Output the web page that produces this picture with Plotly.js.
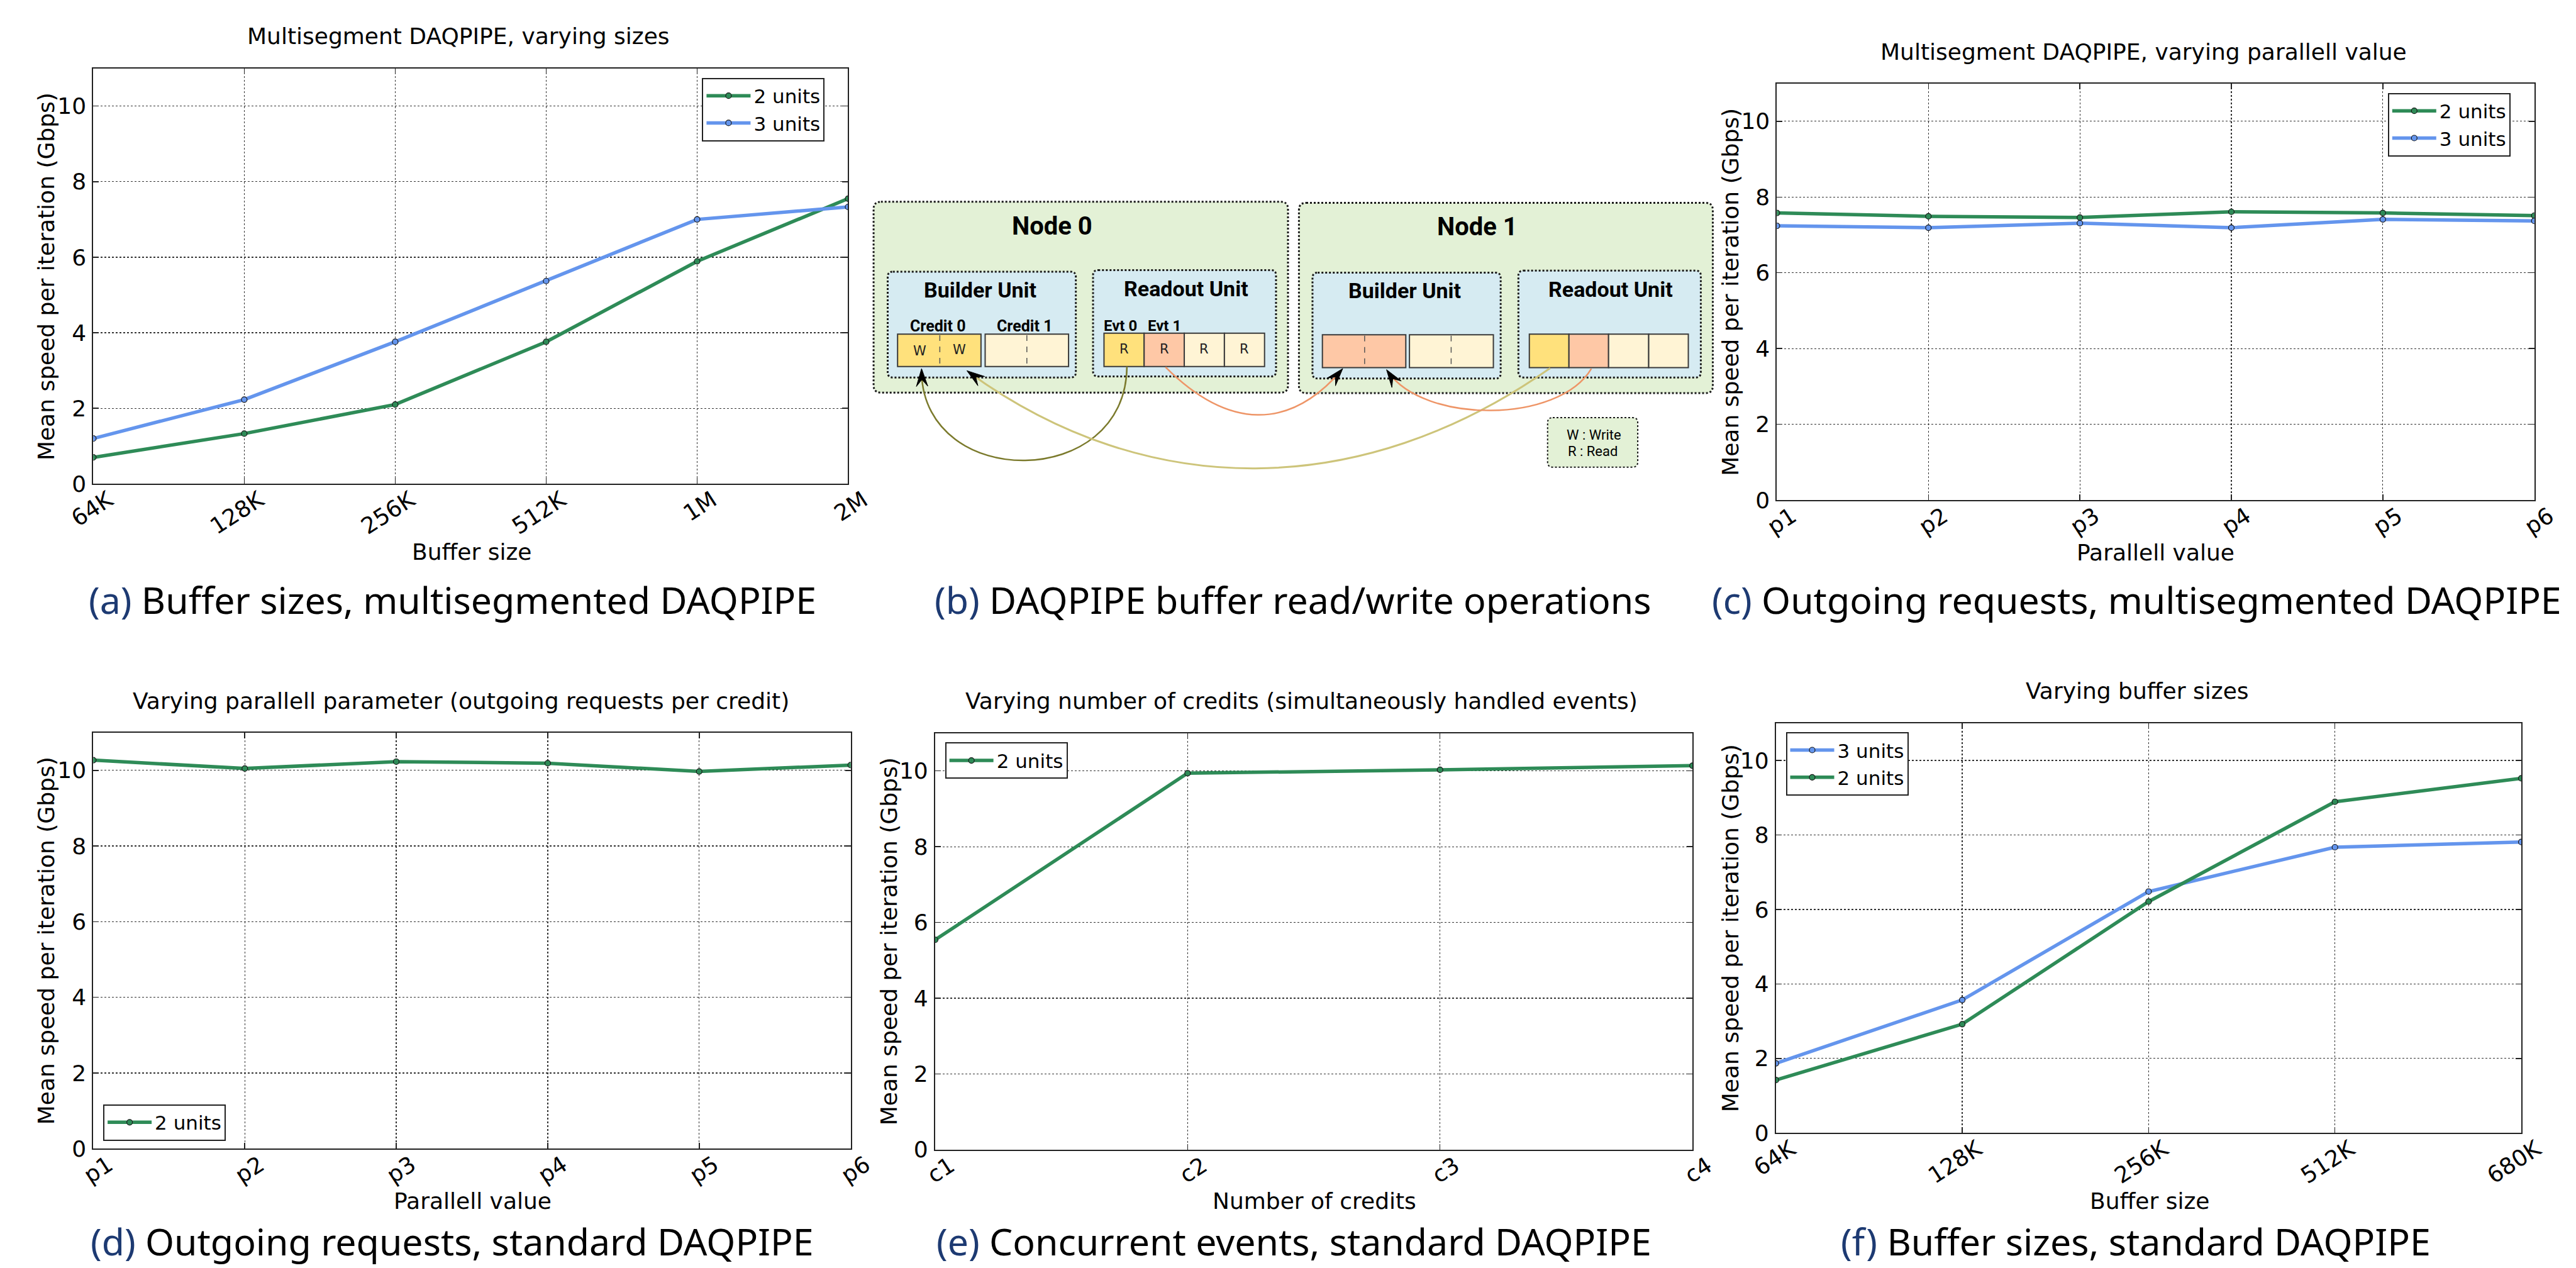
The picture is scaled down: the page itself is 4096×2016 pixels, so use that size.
<!DOCTYPE html>
<html><head><meta charset="utf-8">
<script src="https://cdn.plot.ly/plotly-3.0.1.min.js"></script>
<style>html,body{margin:0;padding:0;background:#fff;overflow:hidden}#fig{width:4096px;height:2016px}</style>
</head><body><div id="fig"></div><script>
// ---------------- data ----------------
const bufA = ['64K','128K','256K','512K','1M','2M'];
const a2units = [0.70,1.33,2.10,3.76,5.89,7.55];
const a3units = [1.20,2.23,3.76,5.37,7.00,7.33];

const parC = ['p1','p2','p3','p4','p5','p6'];
const c2units = [7.58,7.49,7.46,7.61,7.58,7.51];
const c3units = [7.24,7.19,7.31,7.19,7.41,7.37];

const parD = ['p1','p2','p3','p4','p5','p6'];
const d2units = [10.27,10.05,10.23,10.19,9.97,10.14];

const credE = ['c1','c2','c3','c4'];
const e2units = [5.54,9.94,10.03,10.14];

const bufF = ['64K','128K','256K','512K','680K'];
const f3units = [1.87,3.57,6.48,7.67,7.81];
const f2units = [1.42,2.92,6.21,8.89,9.52];

const yTicks = [0,2,4,6,8,10];

// ---------------- helpers (reference pixel -> paper) ----------------
const RW = 4942, RH = 2432;
const PX = x => x / RW;
const PY = y => 1 - y / RH;
const GREEN = '#2e8b57', BLUE = '#6495ed';
const SANS = 'DejaVu Sans';
const CAPF = 'Noto Sans';
const DIAF = 'Roboto';

function trace(x, y, color, name, ax, leg) {
  return {type:'scatter', mode:'lines+markers', x:x, y:y, name:name,
    xaxis:'x'+ax, yaxis:'y'+ax, legend:leg,
    line:{color:color, width:5.5},
    marker:{size:9, color:color, line:{color:'#1a1a1a', width:1.2}}};
}
const data = [
  trace(bufA, a2units, GREEN, '2 units', '', 'legend'),
  trace(bufA, a3units, BLUE, '3 units', '', 'legend'),
  trace(parC, c2units, GREEN, '2 units', '2', 'legend2'),
  trace(parC, c3units, BLUE, '3 units', '2', 'legend2'),
  trace(parD, d2units, GREEN, '2 units', '3', 'legend3'),
  trace(credE, e2units, GREEN, '2 units', '4', 'legend4'),
  trace(bufF, f3units, BLUE, '3 units', '5', 'legend5'),
  trace(bufF, f2units, GREEN, '2 units', '5', 'legend5')
];

function xax(n, x0, x1, y) {
  return {type:'category', range:[0, n-1], domain:[PX(x0), PX(x1)], anchor:y,
    showgrid:true, gridcolor:'#333', griddash:'dot', gridwidth:1.2,
    showline:true, linecolor:'#222', linewidth:2, mirror:'ticks',
    ticks:'inside', ticklen:9, tickwidth:1.5, tickcolor:'#222',
    tickangle:-33, ticklabelshift:24, ticklabelstandoff:-11,
    tickfont:{family:SANS, size:36, color:'#000'}, zeroline:false, fixedrange:true};
}
function yax(y0, y1, x) {
  return {range:[0, 11], tickvals:yTicks, domain:[PY(y1), PY(y0)], anchor:x,
    showgrid:true, gridcolor:'#333', griddash:'dot', gridwidth:1.2,
    showline:true, linecolor:'#222', linewidth:2, mirror:'ticks',
    ticks:'inside', ticklen:9, tickwidth:1.5, tickcolor:'#222',
    ticklabelstandoff:2,
    tickfont:{family:SANS, size:36, color:'#000'}, zeroline:false, fixedrange:true};
}
function leg(x, y) {
  return {x:PX(x), y:PY(y), xanchor:'left', yanchor:'top', bgcolor:'#fff',
    bordercolor:'#222', borderwidth:2, font:{family:SANS, size:31, color:'#000'},
    itemwidth:70, tracegroupgap:0};
}

const layout = {
  width:4096, height:2016, margin:{l:0,r:0,t:0,b:0},
  paper_bgcolor:'#fff', plot_bgcolor:'#fff', showlegend:true,
  xaxis: xax(bufA.length, 179, 1627, 'y'),   yaxis: yax(131, 928, 'x'),
  xaxis2: xax(parC.length, 3409, 4862, 'y2'), yaxis2: yax(160, 959, 'x2'),
  xaxis3: xax(parD.length, 179, 1632, 'y3'), yaxis3: yax(1405, 2203, 'x3'),
  xaxis4: xax(credE.length, 1794, 3247, 'y4'), yaxis4: yax(1406, 2205, 'x4'),
  xaxis5: xax(bufF.length, 3407, 4837, 'y5'), yaxis5: yax(1387, 2173, 'x5'),
  legend: leg(1347, 149), legend2: leg(4581, 178), legend3: leg(198, 2118),
  legend4: leg(1813, 1424), legend5: leg(3426, 1404),
  shapes: [], annotations: []
};

const A = layout.annotations;
function txt(x, y, s, size, family, opts) {
  A.push(Object.assign({xref:'paper', yref:'paper', x:PX(x), y:PY(y), text:s, showarrow:false,
    xanchor:'center', yanchor:'middle', font:{family:family, size:size, color:'#000'}}, opts||{}));
}
// subplot titles
txt(880, 69, 'Multisegment DAQPIPE, varying sizes', 36, SANS);
txt(4112, 100, 'Multisegment DAQPIPE, varying parallell value', 36, SANS);
txt(884, 1345, 'Varying parallell parameter (outgoing requests per credit)', 36, SANS);
txt(2497, 1345, 'Varying number of credits (simultaneously handled events)', 36, SANS);
txt(4100, 1325, 'Varying buffer sizes', 36, SANS);
// x axis titles
txt(905, 1058, 'Buffer size', 36, SANS);
txt(4136, 1060, 'Parallell value', 36, SANS);
txt(907, 2303, 'Parallell value', 36, SANS);
txt(2522, 2303, 'Number of credits', 36, SANS);
txt(4124, 2303, 'Buffer size', 36, SANS);
// y axis titles
const YT = 'Mean speed per iteration (Gbps)';
[[89,530],[3320,560],[89,1804],[1705,1806],[3320,1780]].forEach(p =>
  txt(p[0], p[1], YT, 36, SANS, {textangle:-90}));
// captions
const NAVY = '#1d3a72';
function cap(x, y, letter, s) {
  txt(x, y, '<span style="color:'+NAVY+'">('+letter+')</span> '+s, 59, CAPF);
}
cap(868, 1150, 'a', 'Buffer sizes, multisegmented DAQPIPE');
cap(2481, 1150, 'b', 'DAQPIPE buffer read/write operations');
cap(4099, 1150, 'c', 'Outgoing requests, multisegmented DAQPIPE');
cap(867, 2380, 'd', 'Outgoing requests, standard DAQPIPE');
cap(2482, 2380, 'e', 'Concurrent events, standard DAQPIPE');
cap(4098, 2380, 'f', 'Buffer sizes, standard DAQPIPE');

// ---------------- diagram (b) ----------------
const S = layout.shapes;
function P(x, y) { return PX(x).toFixed(5) + ',' + PY(y).toFixed(5); }
function rrect(x0, y0, x1, y1, r, fill, dash, w) {
  const d = 'M' + P(x0+r, y0) + ' L' + P(x1-r, y0) + ' Q' + P(x1, y0) + ' ' + P(x1, y0+r) +
    ' L' + P(x1, y1-r) + ' Q' + P(x1, y1) + ' ' + P(x1-r, y1) + ' L' + P(x0+r, y1) +
    ' Q' + P(x0, y1) + ' ' + P(x0, y1-r) + ' L' + P(x0, y0+r) + ' Q' + P(x0, y0) + ' ' + P(x0+r, y0) + ' Z';
  S.push({type:'path', xref:'paper', yref:'paper', path:d, fillcolor:fill,
    line:{color:'#1a1a1a', width:w, dash:dash}});
}
function rect(x0, y0, x1, y1, fill) {
  S.push({type:'rect', xref:'paper', yref:'paper', x0:PX(x0), x1:PX(x1), y0:PY(y1), y1:PY(y0),
    fillcolor:fill, line:{color:'#3a3a3a', width:2}});
}
function vline(x, y0, y1) {
  S.push({type:'line', xref:'paper', yref:'paper', x0:PX(x), x1:PX(x), y0:PY(y0), y1:PY(y1),
    line:{color:'#555', width:1.5, dash:'dash'}});
}
const NODE = '#e3f1d6', UNIT = '#d6ebf2', YEL = '#ffe17c', SAL = '#fec8a6', CRM = '#fff4d5';
rrect(1676, 387, 2471, 753, 14, NODE, 'dot', 3);
rrect(2492, 389, 3286, 754, 14, NODE, 'dot', 3);
rrect(1703, 521, 2064, 724, 10, UNIT, 'dot', 3);
rrect(2097, 518, 2448, 722, 10, UNIT, 'dot', 3);
rrect(2518, 523, 2879, 726, 10, UNIT, 'dot', 3);
rrect(2913, 519, 3263, 724, 10, UNIT, 'dot', 3);
// builder cells node 0
rect(1722, 641, 1882, 703, YEL); vline(1803, 643, 701);
rect(1890, 641, 2050, 703, CRM); vline(1970, 643, 701);
// readout cells node 0
const r0x = [2118, 2195, 2272, 2349, 2426], cellCol = [YEL, SAL, CRM, CRM];
for (let i = 0; i < 4; i++) rect(r0x[i], 639, r0x[i+1], 703, cellCol[i]);
// builder cells node 1
rect(2537, 642, 2697, 705, SAL); vline(2618, 644, 703);
rect(2704, 642, 2865, 705, CRM); vline(2784, 644, 703);
// readout cells node 1
const r1x = [2934, 3010, 3086, 3163, 3239];
for (let i = 0; i < 4; i++) rect(r1x[i], 641, r1x[i+1], 705, cellCol[i]);
// W/R legend box
rrect(2969, 801, 3142, 896, 10, NODE, 'dot', 2);

// curves
function curve(p, col, w) {
  S.push({type:'path', xref:'paper', yref:'paper',
    path:'M' + P(p[0], p[1]) + ' C' + P(p[2], p[3]) + ' ' + P(p[4], p[5]) + ' ' + P(p[6], p[7]),
    line:{color:col, width:w}});
}
function head(tx, ty, dx, dy) {
  const n = Math.hypot(dx, dy), ux = dx/n, uy = dy/n, L = 34, W = 11;
  const bx = tx - L*ux, by = ty - L*uy;
  const d = 'M' + P(tx, ty) + ' L' + P(bx - W*uy, by + W*ux) + ' L' + P(tx - 0.62*L*ux, ty - 0.62*L*uy) +
    ' L' + P(bx + W*uy, by - W*ux) + ' Z';
  S.push({type:'path', xref:'paper', yref:'paper', path:d, fillcolor:'#000', line:{color:'#000', width:1}});
}
curve([2162,703, 2160,941, 1775,941, 1768,716], '#7b7a2c', 2.5);
curve([2974,706, 2611,961, 2200,961, 1860,715], '#cdc47a', 3);
curve([2236,704, 2357,825, 2474,825, 2573,711], '#ee9567', 2.5);
curve([3053,707, 2990,813, 2732,813, 2663,713], '#ee9567', 2.5);
head(1768, 707, -7, -234);
head(1855, 711, -345, -250);
head(2576, 707, 102, -118);
head(2660, 709, -72, -104);

// diagram text
txt(2018, 434, '<b>Node 0</b>', 40, DIAF);
txt(2834, 435, '<b>Node 1</b>', 40, DIAF);
txt(1881, 556, '<b>Builder Unit</b>', 34, DIAF);
txt(2276, 554, '<b>Readout Unit</b>', 34, DIAF);
txt(2695, 557, '<b>Builder Unit</b>', 34, DIAF);
txt(3090, 555, '<b>Readout Unit</b>', 34, DIAF);
txt(1800, 625, '<b>Credit 0</b>', 25, DIAF);
txt(1966, 626, '<b>Credit 1</b>', 25, DIAF);
txt(2150, 625, '<b>Evt 0</b>', 24, DIAF);
txt(2234, 625, '<b>Evt 1</b>', 24, DIAF);
const small = {font:{family:SANS, size:21, color:'#222'}};
txt(1764, 673, 'W', 21, SANS, small);
txt(1840, 671, 'W', 21, SANS, small);
for (let i = 0; i < 4; i++) txt((r0x[i] + r0x[i+1]) / 2, 670, 'R', 21, SANS, small);
txt(3058, 834, 'W : Write', 22, DIAF);
txt(3055, 865, 'R : Read', 22, DIAF);

Plotly.newPlot('fig', data, layout, {staticPlot:true});
</script></body></html>
